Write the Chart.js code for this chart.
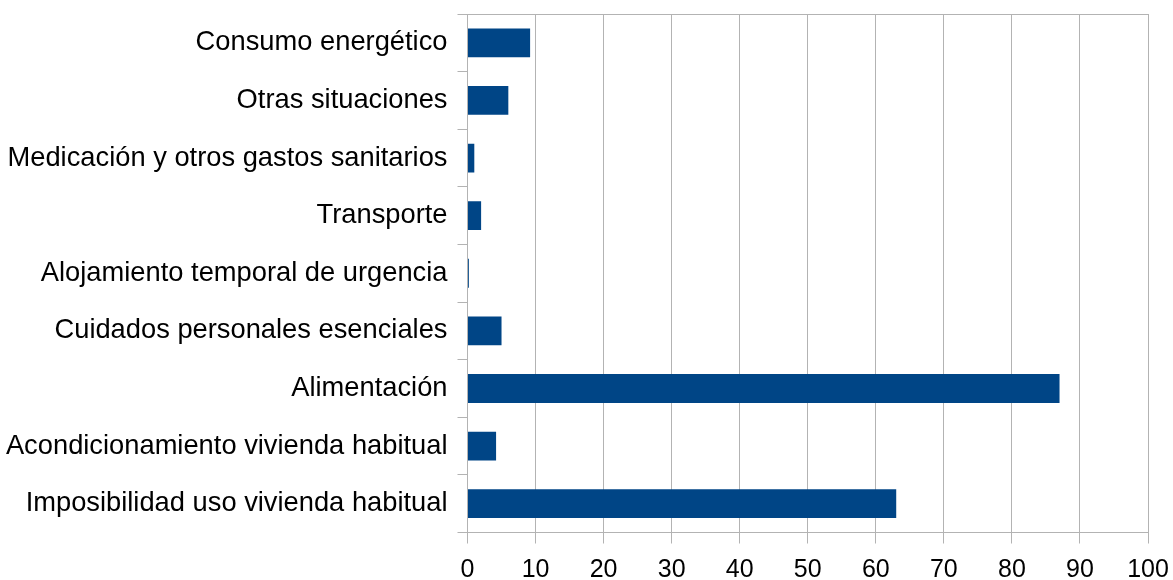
<!DOCTYPE html>
<html>
<head>
<meta charset="utf-8">
<script src="https://cdn.jsdelivr.net/npm/chart.js@4/dist/chart.umd.min.js"></script>
<style>
  html, body { margin: 0; padding: 0; background: #fff; }
  #wrap { width: 1173px; height: 580px; position: relative; }
</style>
</head>
<body>
<div id="wrap"><canvas id="c"></canvas></div>
<script>
const categories = [
  "Consumo energético",
  "Otras situaciones",
  "Medicación y otros gastos sanitarios",
  "Transporte",
  "Alojamiento temporal de urgencia",
  "Cuidados personales esenciales",
  "Alimentación",
  "Acondicionamiento vivienda habitual",
  "Imposibilidad uso vivienda habitual"
];
const values = [9.2, 6, 1, 2, 0.2, 5, 87, 4.2, 63];
const xMin = 0, xMax = 100, xStep = 10;

const gridColor = "#b3b3b3";
const fontFamily = "'Liberation Sans', Arial, sans-serif";

new Chart(document.getElementById("c"), {
  type: "bar",
  data: {
    labels: categories,
    datasets: [{
      data: values,
      backgroundColor: "#004586",
      borderWidth: 0,
      categoryPercentage: 1.0,
      barPercentage: 0.5
    }]
  },
  options: {
    indexAxis: "y",
    responsive: true,
    maintainAspectRatio: false,
    animation: false,
    layout: { padding: { top: 14, right: 25, bottom: 0, left: 0 } },
    plugins: { legend: { display: false }, tooltip: { enabled: false } },
    scales: {
      x: {
        position: "bottom",
        min: xMin, max: xMax,
        ticks: { stepSize: xStep, color: "#000", font: { family: fontFamily, size: 25 }, padding: 12 },
        grid: { color: gridColor, lineWidth: 1, tickLength: 11, drawTicks: true },
        border: { color: gridColor, width: 1 },
        afterFit: (s) => { s.height = 47.5; s.paddingRight = 0; s.paddingLeft = 0; }
      },
      x2: {
        position: "top",
        display: true,
        min: xMin, max: xMax,
        ticks: { display: false },
        grid: { display: false, drawTicks: false },
        border: { display: true, color: gridColor, width: 1 },
        afterFit: (s) => { s.height = 0; s.paddingTop = 0; s.paddingBottom = 0; s.paddingRight = 0; s.paddingLeft = 0; }
      },
      y: {
        position: "left",
        ticks: { color: "#000", font: { family: fontFamily, size: 27.3 }, padding: 10 },
        grid: { color: gridColor, lineWidth: 1, tickLength: 10, drawOnChartArea: false, drawTicks: true, offset: true },
        border: { color: gridColor, width: 1 },
        afterFit: (s) => { s.width = 467.5; s.paddingTop = 0; s.paddingBottom = 0; }
      }
    }
  }
});
</script>
</body>
</html>
